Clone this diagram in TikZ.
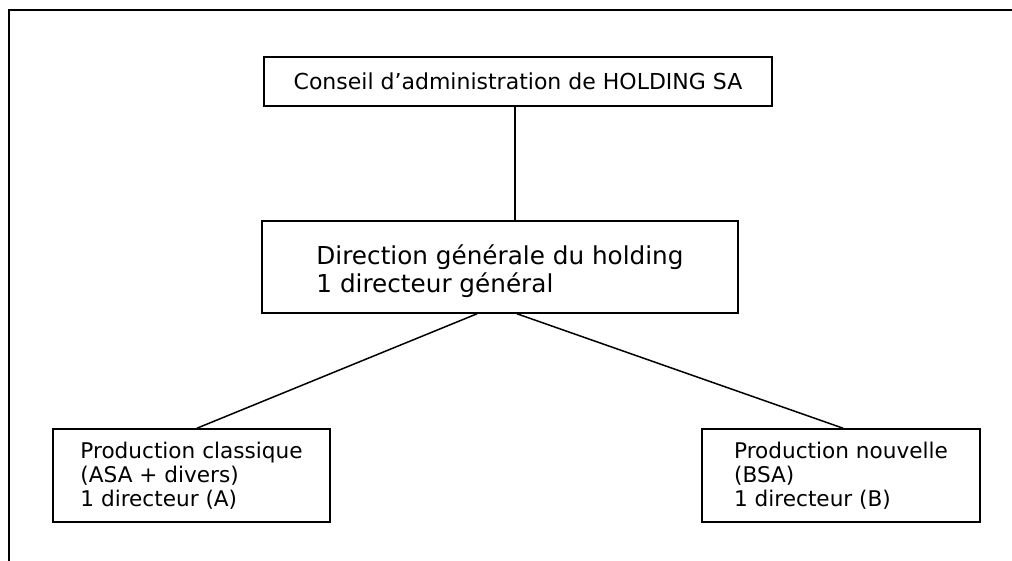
\documentclass[tikz,border=0pt]{standalone}
\usepackage{fontspec}
\setmainfont{DejaVu Sans}
\usepackage{tikz}

\tikzset{
  orgbox/.style={draw=drawColor,line width=1.6pt,inner sep=0pt,align=left,text=drawColor},
  orgline/.style={draw=drawColor,line width=1.5pt}
}

\begin{document}
\begin{tikzpicture}[x=1pt,y=1pt]
\definecolor{fillColor}{RGB}{255,255,255}
\definecolor{drawColor}{RGB}{0,0,0}
\path[use as bounding box,fill=fillColor] (0,0) rectangle (1012,561);

% frame
\path[draw=drawColor,line width=1.5pt] (9,0) --
	(9,551) --
	(1012,551);

% boxes
\node[orgbox,minimum width=508,minimum height=49,font=\fontsize{22}{26}\selectfont] (conseil) at (518,479.5) {Conseil d’administration de HOLDING SA};

\node[orgbox,minimum width=476,minimum height=92,font=\fontsize{24.7}{28}\selectfont] (direction) at (500,294) {\rule{0pt}{29pt}Direction générale du holding\\1 directeur général};

\node[orgbox,minimum width=277,minimum height=93,font=\fontsize{21.6}{24}\selectfont] (prodA) at (191.5,85.5) {Production classique\\(ASA + divers)\\1 directeur (A)};

\node[orgbox,minimum width=278,minimum height=93,font=\fontsize{21.6}{24}\selectfont] (prodB) at (841,85.5) {Production nouvelle\\(BSA)\\1 directeur (B)};

% links
\path[orgline] ([xshift=-3pt]conseil.south) -- ([xshift=15pt]direction.north);
\path[orgline] ([xshift=-23pt]direction.south) -- ([xshift=5.5pt]prodA.north);
\path[orgline] ([xshift=17pt]direction.south) -- ([xshift=2pt]prodB.north);
\end{tikzpicture}
\end{document}
